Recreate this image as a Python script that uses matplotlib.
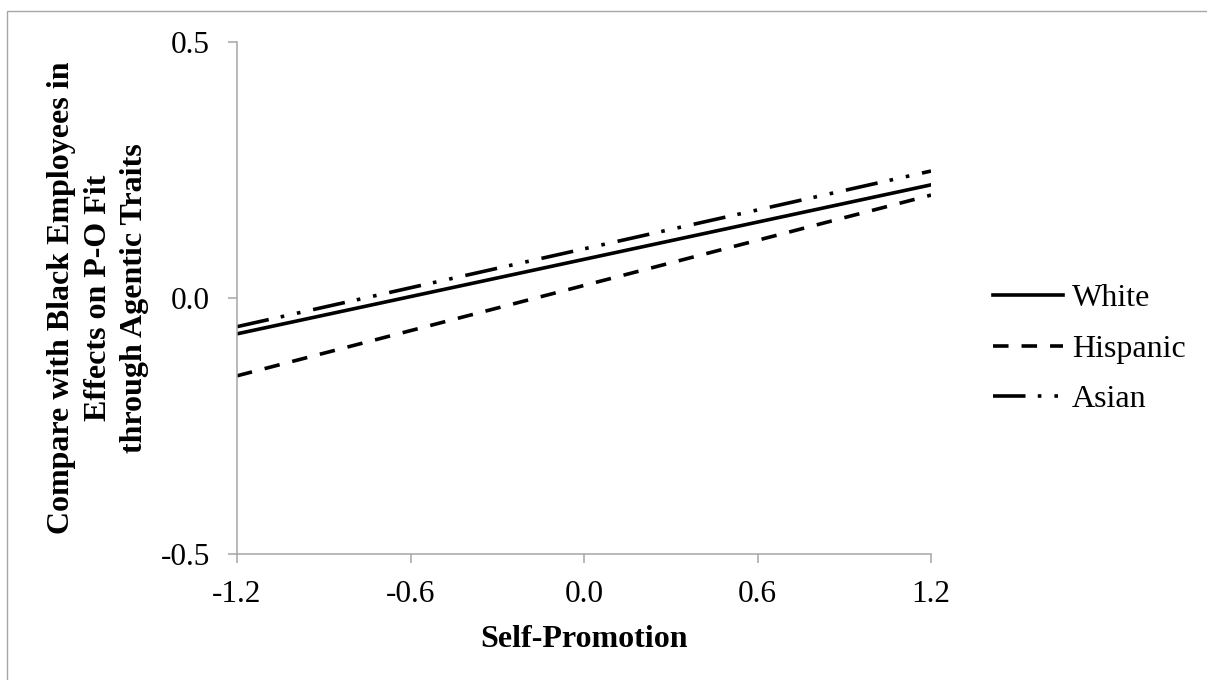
import matplotlib
matplotlib.use("Agg")
import matplotlib.pyplot as plt
from matplotlib.patches import Rectangle

# values (simple slopes at -1.2 / +1.2)
x_vals = [-1.2, 1.2]
white = [-0.070, 0.221]
hispanic = [-0.152, 0.201]
asian = [-0.056, 0.248]

x_ticks = [-1.2, -0.6, 0.0, 0.6, 1.2]
y_ticks = [-0.5, 0.0, 0.5]

plt.rcParams["font.family"] = ["Liberation Serif", "DejaVu Serif"]
plt.rcParams["axes.unicode_minus"] = False

W, H = 1207, 680
fig = plt.figure(figsize=(W / 100, H / 100), dpi=100)

# outer chart-area border (only top/left visible in the crop)
fig.patches.append(Rectangle((7 / W, -0.05), 1.1, 1 - 11 / H + 0.05,
                             transform=fig.transFigure, fill=False,
                             ec="#a6a6a6", lw=1.0))

ax = fig.add_axes([237 / W, 1 - 554 / H, (931 - 237) / W, (554 - 42) / H])

lw = 2.6
ax.plot(x_vals, white, color="black", lw=lw, label="White")
ax.plot(x_vals, hispanic, color="black", lw=lw, dashes=(4.3, 3.6),
        label="Hispanic")
ax.plot(x_vals, asian, color="black", lw=lw,
        dashes=(9.0, 3.4, 1.0, 3.6, 1.0, 3.6), label="Asian")

ax.set_xlim(-1.2, 1.2)
ax.set_ylim(-0.5, 0.5)
ax.set_xticks(x_ticks)
ax.set_xticklabels([f"{v:.1f}" for v in x_ticks])
ax.set_yticks(y_ticks)
ax.set_yticklabels([f"{v:.1f}" for v in y_ticks])

for s in ("top", "right"):
    ax.spines[s].set_visible(False)
for s in ("left", "bottom"):
    ax.spines[s].set_color("#a6a6a6")
    ax.spines[s].set_linewidth(1.1)
ax.tick_params(axis="both", colors="#a6a6a6", labelcolor="black",
               length=6.5, width=1.1, labelsize=22.5)
ax.tick_params(axis="x", pad=12)
ax.tick_params(axis="y", pad=13)

ax.set_xlabel("Self-Promotion", fontsize=23, fontweight="bold", labelpad=12)
fig.text(98 / W, 1 - 298 / H,
         "Compare with Black Employees in\nEffects on P-O Fit\nthrough Agentic Traits",
         rotation=90, ha="center", va="center", fontsize=23,
         fontweight="bold", linespacing=1.35, multialignment="center")

ax.legend(loc="center left", bbox_to_anchor=(993 / W, 1 - 349 / H),
          bbox_transform=fig.transFigure, frameon=False, fontsize=23,
          handlelength=2.2, handletextpad=0.28, labelspacing=0.66,
          borderpad=0, borderaxespad=0)

fig.savefig("out.png", dpi=100)
